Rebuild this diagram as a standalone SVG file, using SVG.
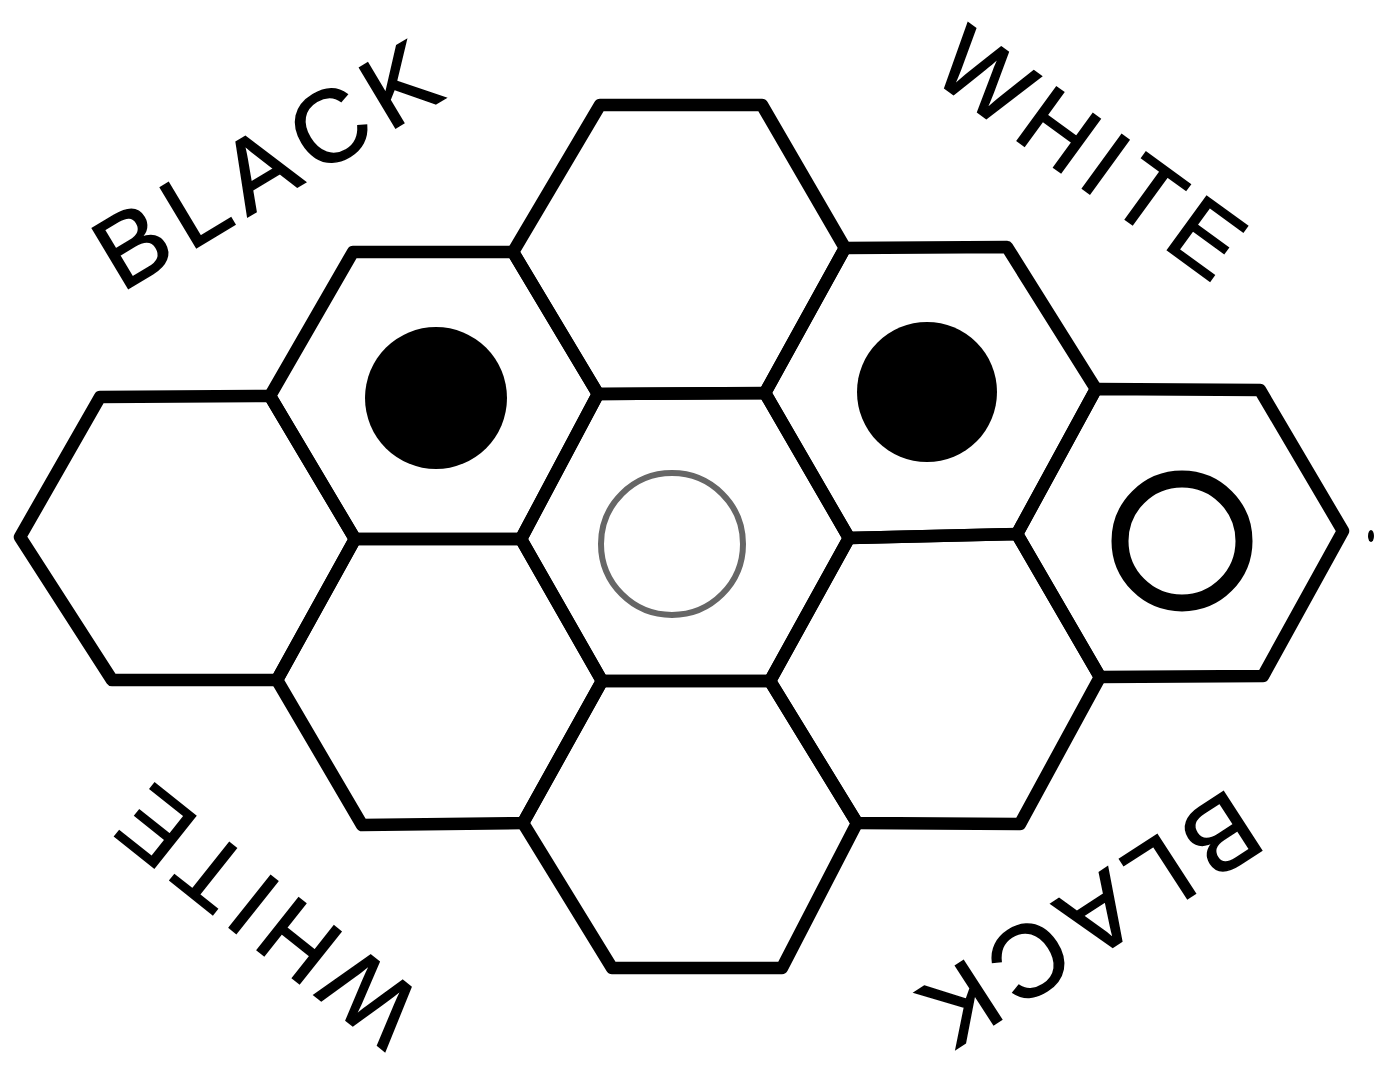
<svg xmlns="http://www.w3.org/2000/svg" width="1376" height="1071" viewBox="0 0 1376 1071">
<style>
.hex{fill:none;stroke:#000;stroke-width:12.5;stroke-linejoin:round}
.lbl{font-family:"Liberation Sans",Arial,sans-serif;font-size:102px;fill:#000;stroke:#000;stroke-width:1.5;text-anchor:middle}
.lbl2{font-size:97px}
.disc{fill:#000}
</style>
<rect width="1376" height="1071" fill="#fff"/>
<g id="cells">
<g id="hex-top"><polygon class="hex" points="600,105 762,105 845,248 765,393 598,394 513,252"/></g>
<g id="hex-ul"><polygon class="hex" points="353,252 513,252 598,394 521,539 355,539 270,396"/><circle class="disc" cx="436" cy="398" r="71"/></g>
<g id="hex-ur"><polygon class="hex" points="845,248 1007,247 1096,389 1017,534 849,538 765,393"/><circle class="disc" cx="927" cy="392" r="70"/></g>
<g id="hex-l"><polygon class="hex" points="100,397 270,396 355,539 277,680 112,680 20,537"/></g>
<g id="hex-c"><polygon class="hex" points="598,394 765,393 849,538 770,681 602,681 521,539"/><circle cx="672" cy="544" r="71" fill="none" stroke="#666" stroke-width="6"/></g>
<g id="hex-r"><polygon class="hex" points="1096,389 1260,390 1343,531 1263,676 1100,677 1017,534"/><circle cx="1182" cy="541" r="62" fill="none" stroke="#000" stroke-width="17"/></g>
<g id="hex-ll"><polygon class="hex" points="355,539 521,539 602,681 523,823 362,825 277,680"/></g>
<g id="hex-lr"><polygon class="hex" points="849,538 1017,534 1100,677 1020,824 857,823 770,681"/></g>
<g id="hex-b"><polygon class="hex" points="602,681 770,681 857,823 782,968 612,968 523,823"/></g>
</g>
<g id="connectors"></g>
<g id="labels">
<text class="lbl" transform="translate(284,195) rotate(-31)" textLength="380" lengthAdjust="spacing">BLACK</text>
<text class="lbl lbl2" transform="translate(1071,180) rotate(36)" textLength="352" lengthAdjust="spacing">WHITE</text>
<text class="lbl lbl2" transform="translate(289,890) rotate(-141.5)" textLength="352" lengthAdjust="spacing">WHITE</text>
<text class="lbl" transform="translate(1072,890) rotate(147)" textLength="378" lengthAdjust="spacing">BLACK</text>
</g>
<ellipse cx="1371" cy="536" rx="3" ry="6" fill="#000"/>
</svg>
